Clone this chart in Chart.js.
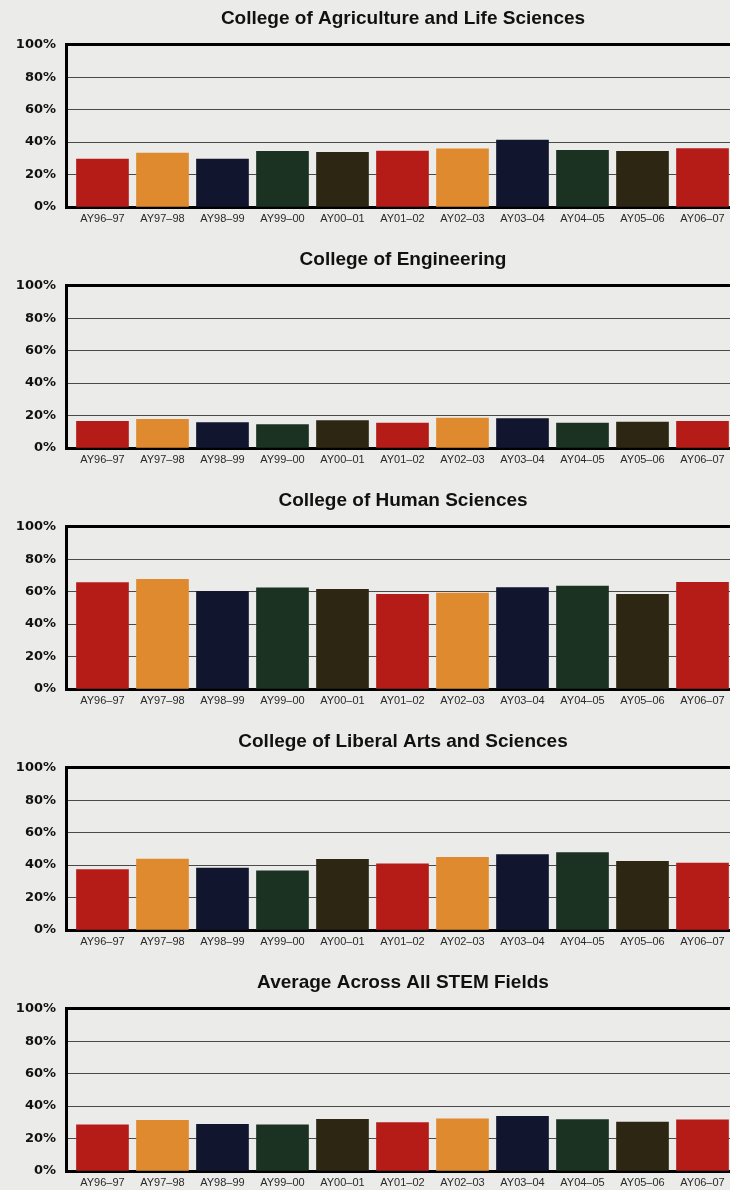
<!DOCTYPE html>
<html>
<head>
<meta charset="utf-8">
<script src="https://cdn.jsdelivr.net/npm/chart.js@4.4.1/dist/chart.umd.min.js"></script>
<style>
  html, body { margin: 0; padding: 0; background: #ebebe9; overflow: hidden; width: 730px; height: 1190px; }
  .panel { position: relative; width: 740px; height: 241px; }
  canvas { display: block; }
</style>
</head>
<body>
<div class="panel"><canvas id="c0" width="740" height="241"></canvas></div>
<div class="panel"><canvas id="c1" width="740" height="241"></canvas></div>
<div class="panel"><canvas id="c2" width="740" height="241"></canvas></div>
<div class="panel"><canvas id="c3" width="740" height="241"></canvas></div>
<div class="panel"><canvas id="c4" width="740" height="241"></canvas></div>
<script>
const categories = ["AY96–97","AY97–98","AY98–99","AY99–00","AY00–01","AY01–02","AY02–03","AY03–04","AY04–05","AY05–06","AY06–07"];
const titles = ["College of Agriculture and Life Sciences","College of Engineering","College of Human Sciences","College of Liberal Arts and Sciences","Average Across All STEM Fields"];
const agriculture = [29.5, 33.3, 29.5, 34.3, 33.7, 34.5, 35.8, 41.3, 35.0, 34.3, 36.0];
const engineering = [16.5, 17.7, 15.6, 14.4, 16.9, 15.4, 18.5, 18.1, 15.4, 16.0, 16.5];
const humanSciences = [65.6, 67.6, 60.2, 62.3, 61.4, 58.4, 59.2, 62.5, 63.5, 58.4, 65.8];
const liberalArts = [37.3, 43.7, 38.1, 36.5, 43.5, 40.8, 44.8, 46.5, 47.7, 42.3, 41.3];
const stemAverage = [28.5, 31.3, 28.7, 28.5, 31.9, 29.8, 32.1, 33.7, 31.7, 30.2, 31.5];
const yTicks = [0, 20, 40, 60, 80, 100];
const barColors = ["#b51c18", "#e08a2f", "#12152e", "#1b3122", "#2d2613"];

const seriesList = [agriculture, engineering, humanSciences, liberalArts, stemAverage];

seriesList.forEach((values, k) => {
  const ctx = document.getElementById('c' + k).getContext('2d');
  new Chart(ctx, {
    type: 'bar',
    data: {
      datasets: [{
        data: values.map((v, i) => ({ x: i, y: v })),
        backgroundColor: values.map((v, i) => barColors[i % barColors.length]),
        borderWidth: 0,
        barThickness: 52
      }]
    },
    options: {
      responsive: false,
      animation: false,
      devicePixelRatio: 1,
      layout: { padding: { left: 0, right: 0, top: 0, bottom: 0 } },
      plugins: {
        legend: { display: false },
        tooltip: { enabled: false },
        title: {
          display: true,
          text: titles[k],
          fullSize: false,
          color: '#111',
          font: { family: "'Liberation Sans', Arial, Helvetica, sans-serif", size: 19, weight: 'bold' },
          padding: { top: 7, bottom: 15 }
        }
      },
      scales: {
        x: {
          type: 'linear',
          offset: false,
          min: -0.608,
          max: 10.625,
          afterBuildTicks: (scale) => { scale.ticks = categories.map((c, i) => ({ value: i })); },
          afterFit: (scale) => { scale.height = 34; },
          grid: { display: false, drawTicks: false, offset: false },
          border: { display: true, color: '#000', width: 3 },
          ticks: {
            autoSkip: false,
            maxRotation: 0,
            padding: 5,
            color: '#2a2a2a',
            font: { family: "'Liberation Sans', Arial, sans-serif", size: 11 },
            callback: (value) => categories[value]
          }
        },
        y: {
          min: 0,
          max: 100,
          afterBuildTicks: (scale) => { scale.ticks = yTicks.map(v => ({ value: v })); },
          afterFit: (scale) => { scale.width = 66; },
          grid: {
            drawTicks: false,
            color: (c) => c.tick && c.tick.value === 100 ? '#000' : '#4a4a4a',
            lineWidth: (c) => c.tick && c.tick.value === 100 ? 3 : 1
          },
          border: { display: true, color: '#000', width: 3 },
          ticks: {
            padding: 10,
            color: '#111',
            font: { family: "'DejaVu Sans', sans-serif", size: 13, weight: 'bold' },
            callback: (v) => v + '%'
          }
        }
      }
    }
  });
});
</script>
</body>
</html>
